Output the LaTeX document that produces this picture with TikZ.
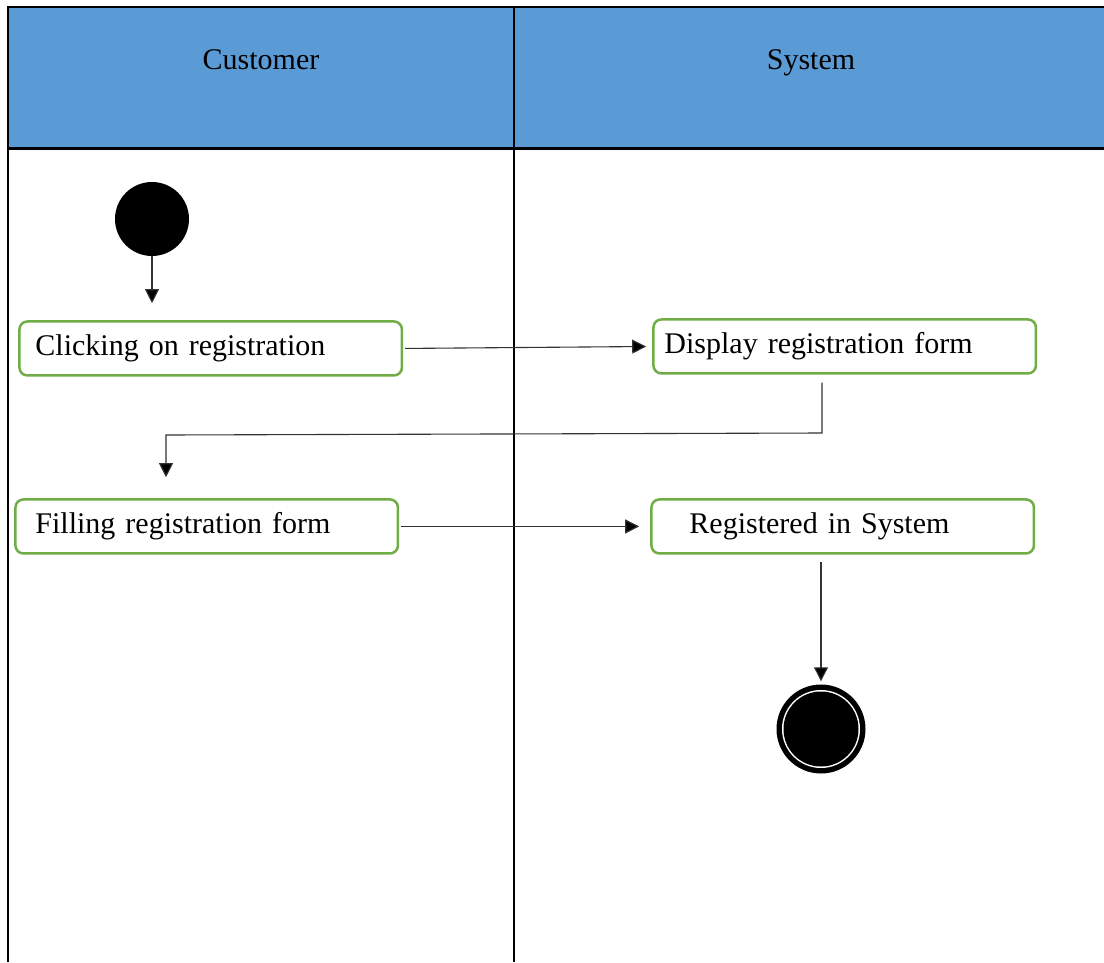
\documentclass[tikz,border=0pt]{standalone}
\usepackage{fontspec}
\setmainfont{Liberation Serif}
\usetikzlibrary{arrows.meta}
\definecolor{laneblue}{HTML}{5B9BD5}
\definecolor{actgreen}{HTML}{70AD47}
\tikzset{
  lane/.style={line width=2.5pt, black},
  lanetitle/.style={font=\fontsize{30}{36}\selectfont, inner sep=0pt, anchor=base},
  % activity box: #1 = horizontal padding before the text
  act/.style={draw=actgreen, line width=2.5pt, rounded corners=8pt,
    minimum height=54pt, inner xsep=#1, inner ysep=0pt,
    text width=382.5pt-2*#1, align=left,
    font=\fontsize{30}{36}\selectfont},
  flow/.style={line width=1.1pt, draw=black!80,
    -{Triangle[length=14pt,width=14pt,fill=black]}},
}
\begin{document}
\begin{tikzpicture}[x=1pt, y=-1pt]
  \useasboundingbox (0,0) rectangle (1104,962);

  % header band
  \fill[laneblue] (8,7) rectangle (1104,148.5);
  \draw[lane] (8,7) -- (1104,7);
  \draw[lane] (8,148.5) -- (1104,148.5);
  \draw[lane] (8,5.8) -- (8,962);
  \draw[lane] (514,5.8) -- (514,962);
  \node[lanetitle] (hcust) at (261,69) {Customer};
  \node[lanetitle] (hsys)  at (811,69) {System};

  % initial state
  \node[circle, fill=black, minimum size=74pt, inner sep=0pt] (start) at (152,219) {};

  % activities
  \node[act=16pt, anchor=north west] (click)  at (18.2,320.2) {Clicking on registration};
  \node[act=11pt, anchor=north west] (show)   at (652.2,318.2) {Display registration form};
  \node[act=20pt, anchor=north west] (fill)   at (14.2,498.2) {Filling registration form};
  \node[act=38pt, anchor=north west] (done)   at (650.2,498.2) {Registered in System};

  % final state
  \node[circle, fill=black, minimum size=89pt, inner sep=0pt] (end) at (821,729) {};
  \node[circle, fill=white, minimum size=78pt, inner sep=0pt] (endgap) at (end) {};
  \node[circle, fill=black, minimum size=75pt, inner sep=0pt] (endcore) at (end) {};

  % bend points of the return path
  \coordinate (k1) at (822,433);
  \coordinate (k2) at (166,435);

  % control flow
  \draw[flow, shorten >=17pt] (start.south) -- (start.south |- click.north);
  \draw[flow, shorten <=2pt, shorten >=6pt] (click.east) -- (show.west);
  \draw[flow, shorten >=21pt] (show.south -| k1) ++(0,8) -- (k1) -- (k2) -- (k2 |- fill.north);
  \draw[flow, shorten <=2pt, shorten >=11pt] (fill.east) -- (done.west);
  \draw[flow, shorten <=7pt, shorten >=3pt] (end |- done.south) -- (end.north);
\end{tikzpicture}
\end{document}
